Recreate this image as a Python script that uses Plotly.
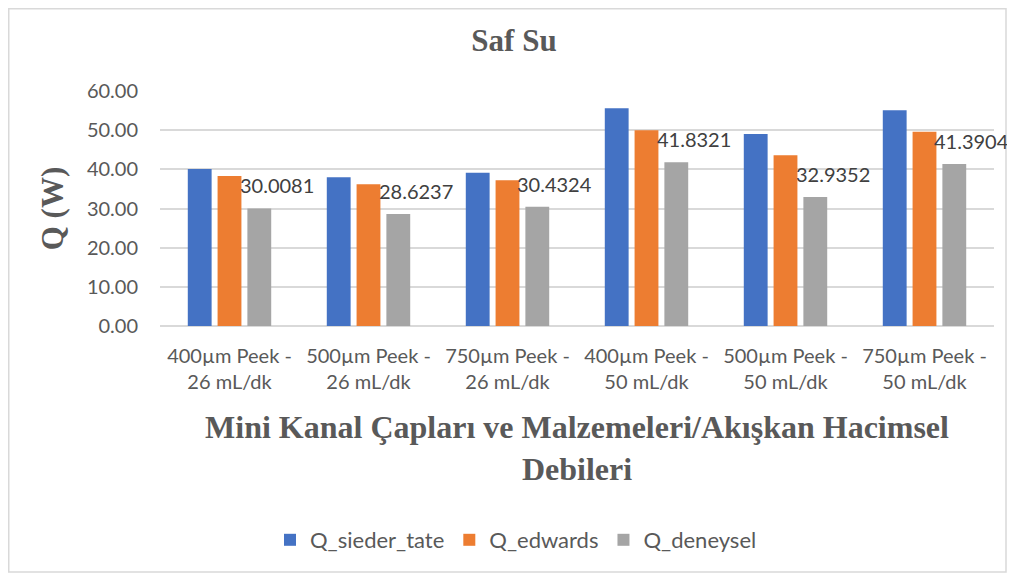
import plotly.graph_objects as go

categories = [
    "400µm Peek -<br>26 mL/dk",
    "500µm Peek -<br>26 mL/dk",
    "750µm Peek -<br>26 mL/dk",
    "400µm Peek -<br>50 mL/dk",
    "500µm Peek -<br>50 mL/dk",
    "750µm Peek -<br>50 mL/dk",
]
q_sieder_tate = [40.1, 38.0, 39.1, 55.6, 49.0, 55.1]
q_edwards = [38.3, 36.2, 37.2, 50.0, 43.6, 49.6]
q_deneysel = [30.0081, 28.6237, 30.4324, 41.8321, 32.9352, 41.3904]
deneysel_labels = ["30.0081", "28.6237", "30.4324", "41.8321", "32.9352", "41.3904"]

series = [
    ("Q_sieder_tate", q_sieder_tate, "#4472C4"),
    ("Q_edwards", q_edwards, "#ED7D31"),
    ("Q_deneysel", q_deneysel, "#A5A5A5"),
]

# page has an 8px body margin; figure coordinates = page coordinates - 8.
# Figure is sized so the page does not overflow the 1015x581 window.
OFF = 8
W, H = 1015 - 2 * OFF, 581 - 2 * OFF
ML = 160 - OFF
MT = 91 - OFF
MR = W - (994 - OFF)
MB = H - (326 - OFF)
pw = W - ML - MR
ph = H - MT - MB

def px_x(p):
    return (p - ML) / pw

def px_y(p):
    return (H - MB - p) / ph

tick_font = dict(family="Lato, Carlito, sans-serif", size=20, color="#595959")
legend_font = dict(family="Lato, Carlito, sans-serif", size=22, color="#595959")
title_font = dict(family="Liberation Serif, Times New Roman, serif", size=31, color="#595959")
xtitle_font = dict(family="Liberation Serif, Times New Roman, serif", size=32, color="#595959")

fig = go.Figure()
for name, vals, color in series:
    fig.add_trace(go.Bar(name=name, x=categories, y=vals, marker_color=color,
                         marker_line_width=0))

annotations = []
for cat, v, lab in zip(categories, q_deneysel, deneysel_labels):
    annotations.append(dict(
        x=cat, y=v, xref="x", yref="y", text=lab, showarrow=False,
        xanchor="center", yanchor="middle", xshift=47, yshift=23,
        font=dict(family="Lato, Carlito, sans-serif", size=20, color="#404040"),
    ))

fig.update_layout(
    width=W, height=H,
    margin=dict(l=ML, r=MR, t=MT, b=MB, autoexpand=False),
    paper_bgcolor="white", plot_bgcolor="white",
    barmode="group", bargap=0.357, bargroupgap=0.2,
    title=dict(text="<b>Saf Su</b>", x=(514 - OFF) / W, xref="container", xanchor="center",
               y=1 - (40 - OFF) / H, yref="container", yanchor="middle", font=title_font),
    legend=dict(orientation="h", xref="container", yref="container",
                x=(516 - OFF) / W, y=1 - (540 - OFF) / H, xanchor="center", yanchor="middle",
                font=legend_font, itemclick=False, traceorder="normal", itemwidth=30),
    annotations=annotations,
    shapes=[dict(type="rect", xref="paper", yref="paper",
                 x0=px_x(0.75), x1=px_x(W - 1), y0=px_y(H - 1), y1=px_y(0.75),
                 line=dict(color="#d9d9d9", width=1.5), fillcolor="rgba(0,0,0,0)",
                 layer="below")],
)

fig.update_yaxes(
    range=[0, 60], dtick=10, tickformat=".2f",
    showgrid=True, gridcolor="#d9d9d9", gridwidth=1.5,
    zeroline=True, zerolinecolor="#d9d9d9", zerolinewidth=1.5,
    showline=False, ticks="", tickfont=tick_font, ticklabelstandoff=21,
    title=dict(text="<b>Q (W)</b>", font=title_font, standoff=14),
    automargin=False,
)
fig.update_xaxes(
    range=[-0.5, len(categories) - 0.5], autorange=False,
    showgrid=False, showline=False, ticks="", tickfont=tick_font, ticklabelstandoff=16,
    title=dict(text="<b>Mini Kanal Çapları ve Malzemeleri/Akışkan Hacimsel<br>Debileri</b>",
               font=xtitle_font, standoff=23),
    automargin=False,
)

fig.write_html("out.html")
